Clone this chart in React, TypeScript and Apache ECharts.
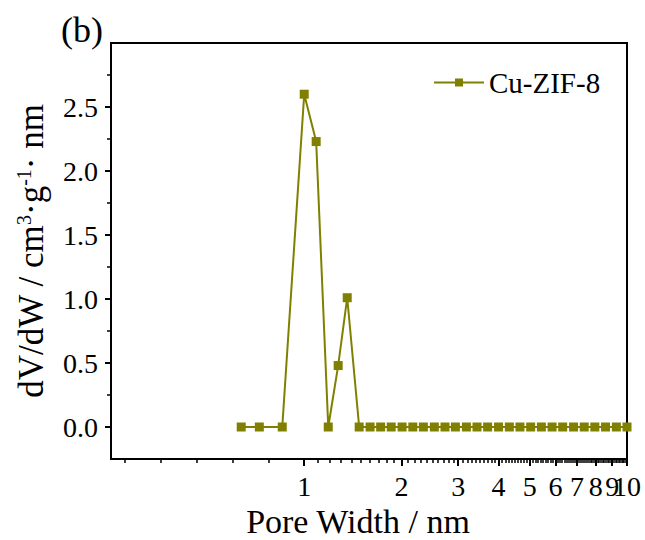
import React, { useEffect, useRef } from "react";
import * as echarts from "echarts";

// Pore width (nm) of each measured point
const poreWidth = [
  0.638, 0.726, 0.855, 1.0, 1.089, 1.187, 1.274, 1.359,
  1.48, 1.60, 1.725, 1.86, 2.01, 2.17, 2.34, 2.53, 2.73, 2.94,
  3.18, 3.43, 3.70, 4.0, 4.32, 4.66, 5.03, 5.43, 5.86, 6.32,
  6.83, 7.37, 7.95, 8.58, 9.27, 10.0,
];
// dV/dW values (cm3 g-1 nm-1)
const dVdW = [
  0, 0, 0, 2.6, 2.23, 0, 0.48, 1.01,
  0, 0, 0, 0, 0, 0, 0, 0, 0, 0,
  0, 0, 0, 0, 0, 0, 0, 0, 0, 0,
  0, 0, 0, 0, 0, 0,
];

const seriesName = "Cu-ZIF-8";
const xMin = 0.252;
const xMax = 10;
const xMajorTicks = [1, 2, 3, 4, 5, 6, 7, 8, 9, 10];
const xLabelsMain = [1, 2, 3, 4, 5, 6, 7, 8, 9];
const xLabelsEnd = [10];
const xLeftMinorTicks = [0.277, 0.359, 0.463, 0.599, 0.774];
const yMin = -0.25;
const yMax = 3;
const yMajorTicks = [0, 0.5, 1.0, 1.5, 2.0, 2.5];
const yMinorTicks = [0.25, 0.75, 1.25, 1.75, 2.25, 2.75];

const FONT = '"Liberation Serif", "Times New Roman", serif';
const OLIVE = "#808000";

export default function App() {
  const ref = useRef<HTMLDivElement>(null);

  useEffect(() => {
    document.body.style.margin = "0";
    if (!ref.current) return;
    const chart = echarts.init(ref.current, undefined, { renderer: "svg" });

    const xMinor: number[] = [...xLeftMinorTicks];
    for (let d = 1; d < 10; d++) {
      for (let k = 1; k < 10; k++) xMinor.push(d + k / 10);
    }
    const lg = (v: number) => Math.log10(v);
    const xLabelStyle = {
      formatter: (v: number) => String(Math.round(Math.pow(10, v))),
      fontFamily: FONT,
      fontSize: 28,
      color: "#000",
      margin: 13,
      showMinLabel: true,
      showMaxLabel: true,
      hideOverlap: false,
    };

    const option: any = {
      animation: false,
      textStyle: { fontFamily: FONT, color: "#000" },
      title: {
        text: "(b)",
        left: 56,
        top: 7,
        textStyle: { fontFamily: FONT, fontSize: 36, fontWeight: "normal", color: "#000" },
      },
      legend: {
        data: [seriesName],
        left: 433,
        top: 68,
        padding: 0,
        itemWidth: 50,
        itemHeight: 10,
        textStyle: { fontFamily: FONT, fontSize: 29, color: "#000" },
      },
      grid: {
        left: 111,
        right: 18,
        top: 43,
        bottom: 81,
        outerBoundsMode: "none",
        containLabel: false,
        show: true,
        borderColor: "#000",
        borderWidth: 2,
        backgroundColor: "transparent",
      },
      xAxis: [
        {
          type: "value",
          position: "bottom",
          min: lg(xMin),
          max: lg(xMax),
          name: "Pore Width / nm",
          nameLocation: "middle",
          nameGap: 43,
          nameTextStyle: { fontFamily: FONT, fontSize: 34, color: "#000", padding: [0, 22, 0, 0] },
          axisLine: { show: true, onZero: false, lineStyle: { color: "#000", width: 2 } },
          axisTick: {
            show: true,
            length: 7,
            customValues: xMajorTicks.map(lg),
            lineStyle: { color: "#000", width: 2 },
          },
          axisLabel: { ...xLabelStyle, customValues: xLabelsMain.map(lg) },
          splitLine: { show: false },
        },
        {
          type: "value",
          position: "bottom",
          offset: 0,
          min: lg(xMin),
          max: lg(xMax),
          axisLine: { show: false, onZero: false },
          axisTick: {
            show: true,
            length: 4,
            customValues: xMinor.map(lg),
            lineStyle: { color: "#000", width: 1.5 },
          },
          axisLabel: { ...xLabelStyle, customValues: xLabelsEnd.map(lg) },
          splitLine: { show: false },
        },
      ],
      yAxis: [
        {
          type: "value",
          position: "left",
          min: yMin,
          max: yMax,
          name: "{a|dV/dW / cm}{s|3}{a|·g}{s|-1}{a|· nm}",
          nameLocation: "middle",
          nameGap: 62,
          nameTextStyle: {
            fontFamily: FONT,
            fontSize: 35,
            color: "#000",
            rich: {
              a: { fontFamily: FONT, fontSize: 35, color: "#000" },
              s: { fontFamily: FONT, fontSize: 20, color: "#000", verticalAlign: "top" },
            },
          },
          axisLine: { show: true, onZero: false, lineStyle: { color: "#000", width: 2 } },
          axisTick: {
            show: true,
            length: 6,
            customValues: yMajorTicks,
            lineStyle: { color: "#000", width: 2 },
          },
          axisLabel: {
            customValues: yMajorTicks,
            formatter: (v: number) => v.toFixed(1),
            fontFamily: FONT,
            fontSize: 28,
            color: "#000",
            margin: 13,
          },
          splitLine: { show: false },
        },
        {
          type: "value",
          position: "left",
          offset: 0,
          min: yMin,
          max: yMax,
          axisLine: { show: false, onZero: false },
          axisTick: {
            show: true,
            length: 4,
            customValues: yMinorTicks,
            lineStyle: { color: "#000", width: 1.5 },
          },
          axisLabel: { show: false },
          splitLine: { show: false },
        },
      ],
      series: [
        {
          name: seriesName,
          type: "line",
          xAxisIndex: 0,
          yAxisIndex: 0,
          data: poreWidth.map((w, i) => [lg(w), dVdW[i]]),
          symbol: "rect",
          symbolSize: 9,
          showAllSymbol: true,
          lineStyle: { color: OLIVE, width: 2 },
          itemStyle: { color: OLIVE },
          clip: true,
        },
      ],
    };

    chart.setOption(option);
    return () => chart.dispose();
  }, []);

  return <div ref={ref} style={{ width: 645, height: 540, position: "absolute", left: 0, top: 0 }} />;
}
